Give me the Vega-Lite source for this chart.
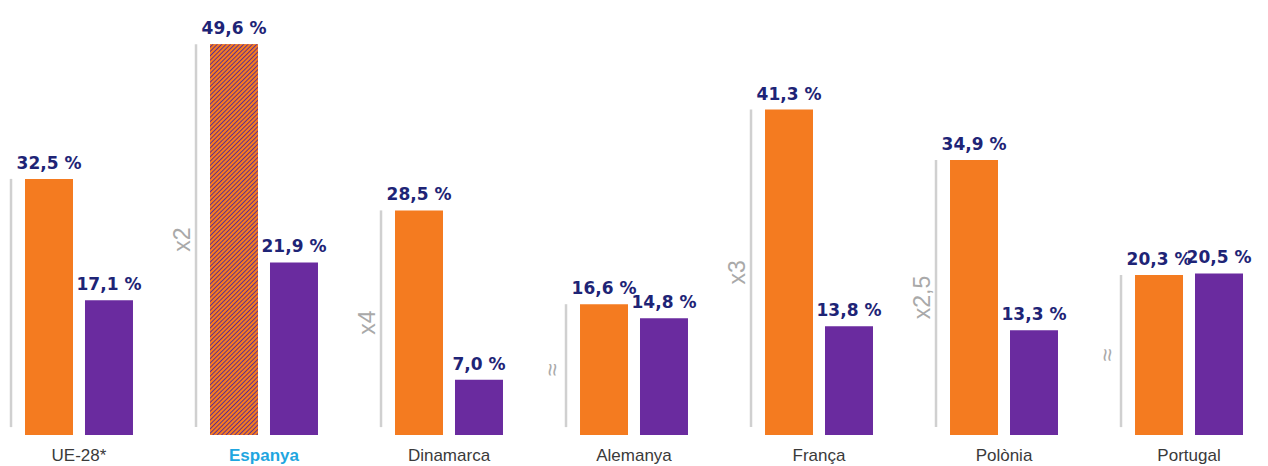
{
  "$schema": "https://vega.github.io/schema/vega-lite/v6.json",
  "width": 1268,
  "height": 435,
  "autosize": {"type": "none"},
  "padding": {"left": 0, "top": 0, "right": 0, "bottom": 31},
  "background": "white",
  "config": {
    "view": {"stroke": null},
    "axisX": {"domain": false, "ticks": false, "grid": false, "labelAngle": 0, "labelPadding": 12, "labelFont": "Liberation Sans", "labelFontSize": 17, "labelColor": "#3a3a3a"}
  },
  "data": {
    "values": [
      {"country": "UE-28*", "series": "s1", "value": 32.5, "label": "32,5 %", "factor": ""},
      {"country": "UE-28*", "series": "s2", "value": 17.1, "label": "17,1 %", "factor": ""},
      {"country": "Espanya", "series": "s1", "value": 49.6, "label": "49,6 %", "factor": "x2"},
      {"country": "Espanya", "series": "s2", "value": 21.9, "label": "21,9 %", "factor": ""},
      {"country": "Dinamarca", "series": "s1", "value": 28.5, "label": "28,5 %", "factor": "x4"},
      {"country": "Dinamarca", "series": "s2", "value": 7.0, "label": "7,0 %", "factor": ""},
      {"country": "Alemanya", "series": "s1", "value": 16.6, "label": "16,6 %", "factor": "≈"},
      {"country": "Alemanya", "series": "s2", "value": 14.8, "label": "14,8 %", "factor": ""},
      {"country": "França", "series": "s1", "value": 41.3, "label": "41,3 %", "factor": "x3"},
      {"country": "França", "series": "s2", "value": 13.8, "label": "13,8 %", "factor": ""},
      {"country": "Polònia", "series": "s1", "value": 34.9, "label": "34,9 %", "factor": "x2,5"},
      {"country": "Polònia", "series": "s2", "value": 13.3, "label": "13,3 %", "factor": ""},
      {"country": "Portugal", "series": "s1", "value": 20.3, "label": "20,3 %", "factor": "≈"},
      {"country": "Portugal", "series": "s2", "value": 20.5, "label": "20,5 %", "factor": ""}
    ]
  },
  "resolve": {"scale": {"y": "independent"}},
  "layer": [
    {
      "mark": {"type": "bar"},
      "encoding": {
        "x": {"field": "country", "type": "nominal", "scale": {"domain": ["UE-28*", "Espanya", "Dinamarca", "Alemanya", "França", "Polònia", "Portugal"], "paddingInner": 0.265, "paddingOuter": 0.0595},
          "axis": {"title": null,
            "labelColor": {"condition": {"test": "datum.value === 'Espanya'", "value": "#1fa6e0"}, "value": "#3a3a3a"},
            "labelFontWeight": {"condition": {"test": "datum.value === 'Espanya'", "value": "bold"}, "value": "normal"}}},
        "xOffset": {"field": "series", "type": "nominal", "scale": {"domain": ["s1", "s2"], "paddingInner": 0.2, "paddingOuter": 0.2333}},
        "y": {"field": "value", "type": "quantitative", "scale": {"domain": [0, 55.2]}, "axis": null},
        "color": {"field": "series", "type": "nominal", "scale": {"domain": ["s1", "s2"], "range": ["#f47b20", "#6a2b9f"]}, "legend": null}
      }
    },
    {
      "transform": [{"filter": "datum.series === 's1'"}],
      "mark": {"type": "rule", "color": "#d0d0d0", "strokeWidth": 2.5},
      "encoding": {
        "x": {"field": "country", "type": "nominal", "bandPosition": 0, "scale": {"domain": ["UE-28*", "Espanya", "Dinamarca", "Alemanya", "França", "Polònia", "Portugal"], "paddingInner": 0.265, "paddingOuter": 0.0595},
          "axis": {"title": null,
            "labelColor": {"condition": {"test": "datum.value === 'Espanya'", "value": "#1fa6e0"}, "value": "#3a3a3a"},
            "labelFontWeight": {"condition": {"test": "datum.value === 'Espanya'", "value": "bold"}, "value": "normal"}}},
        "y": {"field": "value", "type": "quantitative", "scale": {"domain": [0, 55.2]}, "axis": null},
        "y2": {"datum": 1}
      }
    },
    {
      "transform": [{"filter": "datum.country === 'Espanya' && datum.series === 's1'"}],
      "mark": {"type": "bar", "fill": {"gradient": "linear", "x1": 0, "y1": 0, "x2": 0.1358, "y2": 1.1061, "stops": [
{"offset":0,"color":"#f47b20"},{"offset":0.004,"color":"#f47b20"},{"offset":0.007,"color":"#5a2a94"},
{"offset":0.01,"color":"#f47b20"},{"offset":0.014,"color":"#f47b20"},{"offset":0.017,"color":"#5a2a94"},
{"offset":0.02,"color":"#f47b20"},{"offset":0.024,"color":"#f47b20"},{"offset":0.027,"color":"#5a2a94"},
{"offset":0.03,"color":"#f47b20"},{"offset":0.034,"color":"#f47b20"},{"offset":0.037,"color":"#5a2a94"},
{"offset":0.04,"color":"#f47b20"},{"offset":0.044,"color":"#f47b20"},{"offset":0.047,"color":"#5a2a94"},
{"offset":0.05,"color":"#f47b20"},{"offset":0.054,"color":"#f47b20"},{"offset":0.057,"color":"#5a2a94"},
{"offset":0.06,"color":"#f47b20"},{"offset":0.064,"color":"#f47b20"},{"offset":0.067,"color":"#5a2a94"},
{"offset":0.07,"color":"#f47b20"},{"offset":0.074,"color":"#f47b20"},{"offset":0.077,"color":"#5a2a94"},
{"offset":0.08,"color":"#f47b20"},{"offset":0.084,"color":"#f47b20"},{"offset":0.087,"color":"#5a2a94"},
{"offset":0.09,"color":"#f47b20"},{"offset":0.094,"color":"#f47b20"},{"offset":0.097,"color":"#5a2a94"},
{"offset":0.10,"color":"#f47b20"},{"offset":0.104,"color":"#f47b20"},{"offset":0.107,"color":"#5a2a94"},
{"offset":0.11,"color":"#f47b20"},{"offset":0.114,"color":"#f47b20"},{"offset":0.117,"color":"#5a2a94"},
{"offset":0.12,"color":"#f47b20"},{"offset":0.124,"color":"#f47b20"},{"offset":0.127,"color":"#5a2a94"},
{"offset":0.13,"color":"#f47b20"},{"offset":0.134,"color":"#f47b20"},{"offset":0.137,"color":"#5a2a94"},
{"offset":0.14,"color":"#f47b20"},{"offset":0.144,"color":"#f47b20"},{"offset":0.147,"color":"#5a2a94"},
{"offset":0.15,"color":"#f47b20"},{"offset":0.154,"color":"#f47b20"},{"offset":0.157,"color":"#5a2a94"},
{"offset":0.16,"color":"#f47b20"},{"offset":0.164,"color":"#f47b20"},{"offset":0.167,"color":"#5a2a94"},
{"offset":0.17,"color":"#f47b20"},{"offset":0.174,"color":"#f47b20"},{"offset":0.177,"color":"#5a2a94"},
{"offset":0.18,"color":"#f47b20"},{"offset":0.184,"color":"#f47b20"},{"offset":0.187,"color":"#5a2a94"},
{"offset":0.19,"color":"#f47b20"},{"offset":0.194,"color":"#f47b20"},{"offset":0.197,"color":"#5a2a94"},
{"offset":0.20,"color":"#f47b20"},{"offset":0.204,"color":"#f47b20"},{"offset":0.207,"color":"#5a2a94"},
{"offset":0.21,"color":"#f47b20"},{"offset":0.214,"color":"#f47b20"},{"offset":0.217,"color":"#5a2a94"},
{"offset":0.22,"color":"#f47b20"},{"offset":0.224,"color":"#f47b20"},{"offset":0.227,"color":"#5a2a94"},
{"offset":0.23,"color":"#f47b20"},{"offset":0.234,"color":"#f47b20"},{"offset":0.237,"color":"#5a2a94"},
{"offset":0.24,"color":"#f47b20"},{"offset":0.244,"color":"#f47b20"},{"offset":0.247,"color":"#5a2a94"},
{"offset":0.25,"color":"#f47b20"},{"offset":0.254,"color":"#f47b20"},{"offset":0.257,"color":"#5a2a94"},
{"offset":0.26,"color":"#f47b20"},{"offset":0.264,"color":"#f47b20"},{"offset":0.267,"color":"#5a2a94"},
{"offset":0.27,"color":"#f47b20"},{"offset":0.274,"color":"#f47b20"},{"offset":0.277,"color":"#5a2a94"},
{"offset":0.28,"color":"#f47b20"},{"offset":0.284,"color":"#f47b20"},{"offset":0.287,"color":"#5a2a94"},
{"offset":0.29,"color":"#f47b20"},{"offset":0.294,"color":"#f47b20"},{"offset":0.297,"color":"#5a2a94"},
{"offset":0.30,"color":"#f47b20"},{"offset":0.304,"color":"#f47b20"},{"offset":0.307,"color":"#5a2a94"},
{"offset":0.31,"color":"#f47b20"},{"offset":0.314,"color":"#f47b20"},{"offset":0.317,"color":"#5a2a94"},
{"offset":0.32,"color":"#f47b20"},{"offset":0.324,"color":"#f47b20"},{"offset":0.327,"color":"#5a2a94"},
{"offset":0.33,"color":"#f47b20"},{"offset":0.334,"color":"#f47b20"},{"offset":0.337,"color":"#5a2a94"},
{"offset":0.34,"color":"#f47b20"},{"offset":0.344,"color":"#f47b20"},{"offset":0.347,"color":"#5a2a94"},
{"offset":0.35,"color":"#f47b20"},{"offset":0.354,"color":"#f47b20"},{"offset":0.357,"color":"#5a2a94"},
{"offset":0.36,"color":"#f47b20"},{"offset":0.364,"color":"#f47b20"},{"offset":0.367,"color":"#5a2a94"},
{"offset":0.37,"color":"#f47b20"},{"offset":0.374,"color":"#f47b20"},{"offset":0.377,"color":"#5a2a94"},
{"offset":0.38,"color":"#f47b20"},{"offset":0.384,"color":"#f47b20"},{"offset":0.387,"color":"#5a2a94"},
{"offset":0.39,"color":"#f47b20"},{"offset":0.394,"color":"#f47b20"},{"offset":0.397,"color":"#5a2a94"},
{"offset":0.40,"color":"#f47b20"},{"offset":0.404,"color":"#f47b20"},{"offset":0.407,"color":"#5a2a94"},
{"offset":0.41,"color":"#f47b20"},{"offset":0.414,"color":"#f47b20"},{"offset":0.417,"color":"#5a2a94"},
{"offset":0.42,"color":"#f47b20"},{"offset":0.424,"color":"#f47b20"},{"offset":0.427,"color":"#5a2a94"},
{"offset":0.43,"color":"#f47b20"},{"offset":0.434,"color":"#f47b20"},{"offset":0.437,"color":"#5a2a94"},
{"offset":0.44,"color":"#f47b20"},{"offset":0.444,"color":"#f47b20"},{"offset":0.447,"color":"#5a2a94"},
{"offset":0.45,"color":"#f47b20"},{"offset":0.454,"color":"#f47b20"},{"offset":0.457,"color":"#5a2a94"},
{"offset":0.46,"color":"#f47b20"},{"offset":0.464,"color":"#f47b20"},{"offset":0.467,"color":"#5a2a94"},
{"offset":0.47,"color":"#f47b20"},{"offset":0.474,"color":"#f47b20"},{"offset":0.477,"color":"#5a2a94"},
{"offset":0.48,"color":"#f47b20"},{"offset":0.484,"color":"#f47b20"},{"offset":0.487,"color":"#5a2a94"},
{"offset":0.49,"color":"#f47b20"},{"offset":0.494,"color":"#f47b20"},{"offset":0.497,"color":"#5a2a94"},
{"offset":0.50,"color":"#f47b20"},{"offset":0.504,"color":"#f47b20"},{"offset":0.507,"color":"#5a2a94"},
{"offset":0.51,"color":"#f47b20"},{"offset":0.514,"color":"#f47b20"},{"offset":0.517,"color":"#5a2a94"},
{"offset":0.52,"color":"#f47b20"},{"offset":0.524,"color":"#f47b20"},{"offset":0.527,"color":"#5a2a94"},
{"offset":0.53,"color":"#f47b20"},{"offset":0.534,"color":"#f47b20"},{"offset":0.537,"color":"#5a2a94"},
{"offset":0.54,"color":"#f47b20"},{"offset":0.544,"color":"#f47b20"},{"offset":0.547,"color":"#5a2a94"},
{"offset":0.55,"color":"#f47b20"},{"offset":0.554,"color":"#f47b20"},{"offset":0.557,"color":"#5a2a94"},
{"offset":0.56,"color":"#f47b20"},{"offset":0.564,"color":"#f47b20"},{"offset":0.567,"color":"#5a2a94"},
{"offset":0.57,"color":"#f47b20"},{"offset":0.574,"color":"#f47b20"},{"offset":0.577,"color":"#5a2a94"},
{"offset":0.58,"color":"#f47b20"},{"offset":0.584,"color":"#f47b20"},{"offset":0.587,"color":"#5a2a94"},
{"offset":0.59,"color":"#f47b20"},{"offset":0.594,"color":"#f47b20"},{"offset":0.597,"color":"#5a2a94"},
{"offset":0.60,"color":"#f47b20"},{"offset":0.604,"color":"#f47b20"},{"offset":0.607,"color":"#5a2a94"},
{"offset":0.61,"color":"#f47b20"},{"offset":0.614,"color":"#f47b20"},{"offset":0.617,"color":"#5a2a94"},
{"offset":0.62,"color":"#f47b20"},{"offset":0.624,"color":"#f47b20"},{"offset":0.627,"color":"#5a2a94"},
{"offset":0.63,"color":"#f47b20"},{"offset":0.634,"color":"#f47b20"},{"offset":0.637,"color":"#5a2a94"},
{"offset":0.64,"color":"#f47b20"},{"offset":0.644,"color":"#f47b20"},{"offset":0.647,"color":"#5a2a94"},
{"offset":0.65,"color":"#f47b20"},{"offset":0.654,"color":"#f47b20"},{"offset":0.657,"color":"#5a2a94"},
{"offset":0.66,"color":"#f47b20"},{"offset":0.664,"color":"#f47b20"},{"offset":0.667,"color":"#5a2a94"},
{"offset":0.67,"color":"#f47b20"},{"offset":0.674,"color":"#f47b20"},{"offset":0.677,"color":"#5a2a94"},
{"offset":0.68,"color":"#f47b20"},{"offset":0.684,"color":"#f47b20"},{"offset":0.687,"color":"#5a2a94"},
{"offset":0.69,"color":"#f47b20"},{"offset":0.694,"color":"#f47b20"},{"offset":0.697,"color":"#5a2a94"},
{"offset":0.70,"color":"#f47b20"},{"offset":0.704,"color":"#f47b20"},{"offset":0.707,"color":"#5a2a94"},
{"offset":0.71,"color":"#f47b20"},{"offset":0.714,"color":"#f47b20"},{"offset":0.717,"color":"#5a2a94"},
{"offset":0.72,"color":"#f47b20"},{"offset":0.724,"color":"#f47b20"},{"offset":0.727,"color":"#5a2a94"},
{"offset":0.73,"color":"#f47b20"},{"offset":0.734,"color":"#f47b20"},{"offset":0.737,"color":"#5a2a94"},
{"offset":0.74,"color":"#f47b20"},{"offset":0.744,"color":"#f47b20"},{"offset":0.747,"color":"#5a2a94"},
{"offset":0.75,"color":"#f47b20"},{"offset":0.754,"color":"#f47b20"},{"offset":0.757,"color":"#5a2a94"},
{"offset":0.76,"color":"#f47b20"},{"offset":0.764,"color":"#f47b20"},{"offset":0.767,"color":"#5a2a94"},
{"offset":0.77,"color":"#f47b20"},{"offset":0.774,"color":"#f47b20"},{"offset":0.777,"color":"#5a2a94"},
{"offset":0.78,"color":"#f47b20"},{"offset":0.784,"color":"#f47b20"},{"offset":0.787,"color":"#5a2a94"},
{"offset":0.79,"color":"#f47b20"},{"offset":0.794,"color":"#f47b20"},{"offset":0.797,"color":"#5a2a94"},
{"offset":0.80,"color":"#f47b20"},{"offset":0.804,"color":"#f47b20"},{"offset":0.807,"color":"#5a2a94"},
{"offset":0.81,"color":"#f47b20"},{"offset":0.814,"color":"#f47b20"},{"offset":0.817,"color":"#5a2a94"},
{"offset":0.82,"color":"#f47b20"},{"offset":0.824,"color":"#f47b20"},{"offset":0.827,"color":"#5a2a94"},
{"offset":0.83,"color":"#f47b20"},{"offset":0.834,"color":"#f47b20"},{"offset":0.837,"color":"#5a2a94"},
{"offset":0.84,"color":"#f47b20"},{"offset":0.844,"color":"#f47b20"},{"offset":0.847,"color":"#5a2a94"},
{"offset":0.85,"color":"#f47b20"},{"offset":0.854,"color":"#f47b20"},{"offset":0.857,"color":"#5a2a94"},
{"offset":0.86,"color":"#f47b20"},{"offset":0.864,"color":"#f47b20"},{"offset":0.867,"color":"#5a2a94"},
{"offset":0.87,"color":"#f47b20"},{"offset":0.874,"color":"#f47b20"},{"offset":0.877,"color":"#5a2a94"},
{"offset":0.88,"color":"#f47b20"},{"offset":0.884,"color":"#f47b20"},{"offset":0.887,"color":"#5a2a94"},
{"offset":0.89,"color":"#f47b20"},{"offset":0.894,"color":"#f47b20"},{"offset":0.897,"color":"#5a2a94"},
{"offset":0.90,"color":"#f47b20"},{"offset":0.904,"color":"#f47b20"},{"offset":0.907,"color":"#5a2a94"},
{"offset":0.91,"color":"#f47b20"},{"offset":0.914,"color":"#f47b20"},{"offset":0.917,"color":"#5a2a94"},
{"offset":0.92,"color":"#f47b20"},{"offset":0.924,"color":"#f47b20"},{"offset":0.927,"color":"#5a2a94"},
{"offset":0.93,"color":"#f47b20"},{"offset":0.934,"color":"#f47b20"},{"offset":0.937,"color":"#5a2a94"},
{"offset":0.94,"color":"#f47b20"},{"offset":0.944,"color":"#f47b20"},{"offset":0.947,"color":"#5a2a94"},
{"offset":0.95,"color":"#f47b20"},{"offset":0.954,"color":"#f47b20"},{"offset":0.957,"color":"#5a2a94"},
{"offset":0.96,"color":"#f47b20"},{"offset":0.964,"color":"#f47b20"},{"offset":0.967,"color":"#5a2a94"},
{"offset":0.97,"color":"#f47b20"},{"offset":0.974,"color":"#f47b20"},{"offset":0.977,"color":"#5a2a94"},
{"offset":0.98,"color":"#f47b20"},{"offset":0.984,"color":"#f47b20"},{"offset":0.987,"color":"#5a2a94"},
{"offset":0.99,"color":"#f47b20"},{"offset":0.994,"color":"#f47b20"},{"offset":0.997,"color":"#5a2a94"},
{"offset":1,"color":"#f47b20"}
      ]}},
      "encoding": {
        "x": {"field": "country", "type": "nominal", "scale": {"domain": ["UE-28*", "Espanya", "Dinamarca", "Alemanya", "França", "Polònia", "Portugal"], "paddingInner": 0.265, "paddingOuter": 0.0595},
          "axis": {"title": null,
            "labelColor": {"condition": {"test": "datum.value === 'Espanya'", "value": "#1fa6e0"}, "value": "#3a3a3a"},
            "labelFontWeight": {"condition": {"test": "datum.value === 'Espanya'", "value": "bold"}, "value": "normal"}}},
        "xOffset": {"field": "series", "type": "nominal", "scale": {"domain": ["s1", "s2"], "paddingInner": 0.2, "paddingOuter": 0.2333}},
        "y": {"field": "value", "type": "quantitative", "scale": {"domain": [0, 55.2]}, "axis": null}
      }
    },
    {
      "mark": {"type": "text", "font": "DejaVu Sans", "fontWeight": "bold", "fontSize": 17, "color": "#1e2476", "align": "center", "baseline": "alphabetic", "dy": -10},
      "encoding": {
        "x": {"field": "country", "type": "nominal", "scale": {"domain": ["UE-28*", "Espanya", "Dinamarca", "Alemanya", "França", "Polònia", "Portugal"], "paddingInner": 0.265, "paddingOuter": 0.0595},
          "axis": {"title": null,
            "labelColor": {"condition": {"test": "datum.value === 'Espanya'", "value": "#1fa6e0"}, "value": "#3a3a3a"},
            "labelFontWeight": {"condition": {"test": "datum.value === 'Espanya'", "value": "bold"}, "value": "normal"}}},
        "xOffset": {"field": "series", "type": "nominal", "scale": {"domain": ["s1", "s2"], "paddingInner": 0.2, "paddingOuter": 0.2333}},
        "y": {"field": "value", "type": "quantitative", "scale": {"domain": [0, 55.2]}, "axis": null},
        "text": {"field": "label", "type": "nominal"}
      }
    },
    {
      "transform": [{"filter": "datum.series === 's1' && datum.factor !== ''"}],
      "mark": {"type": "text", "font": "Liberation Sans", "fontSize": 23, "color": "#a9a9a9", "angle": 270, "align": "center", "baseline": "middle", "dy": -13},
      "encoding": {
        "x": {"field": "country", "type": "nominal", "bandPosition": 0, "scale": {"domain": ["UE-28*", "Espanya", "Dinamarca", "Alemanya", "França", "Polònia", "Portugal"], "paddingInner": 0.265, "paddingOuter": 0.0595},
          "axis": {"title": null,
            "labelColor": {"condition": {"test": "datum.value === 'Espanya'", "value": "#1fa6e0"}, "value": "#3a3a3a"},
            "labelFontWeight": {"condition": {"test": "datum.value === 'Espanya'", "value": "bold"}, "value": "normal"}}},
        "y": {"field": "value", "type": "quantitative", "scale": {"domain": [0, 110.4]}, "axis": null},
        "text": {"field": "factor", "type": "nominal"}
      }
    }
  ]
}
